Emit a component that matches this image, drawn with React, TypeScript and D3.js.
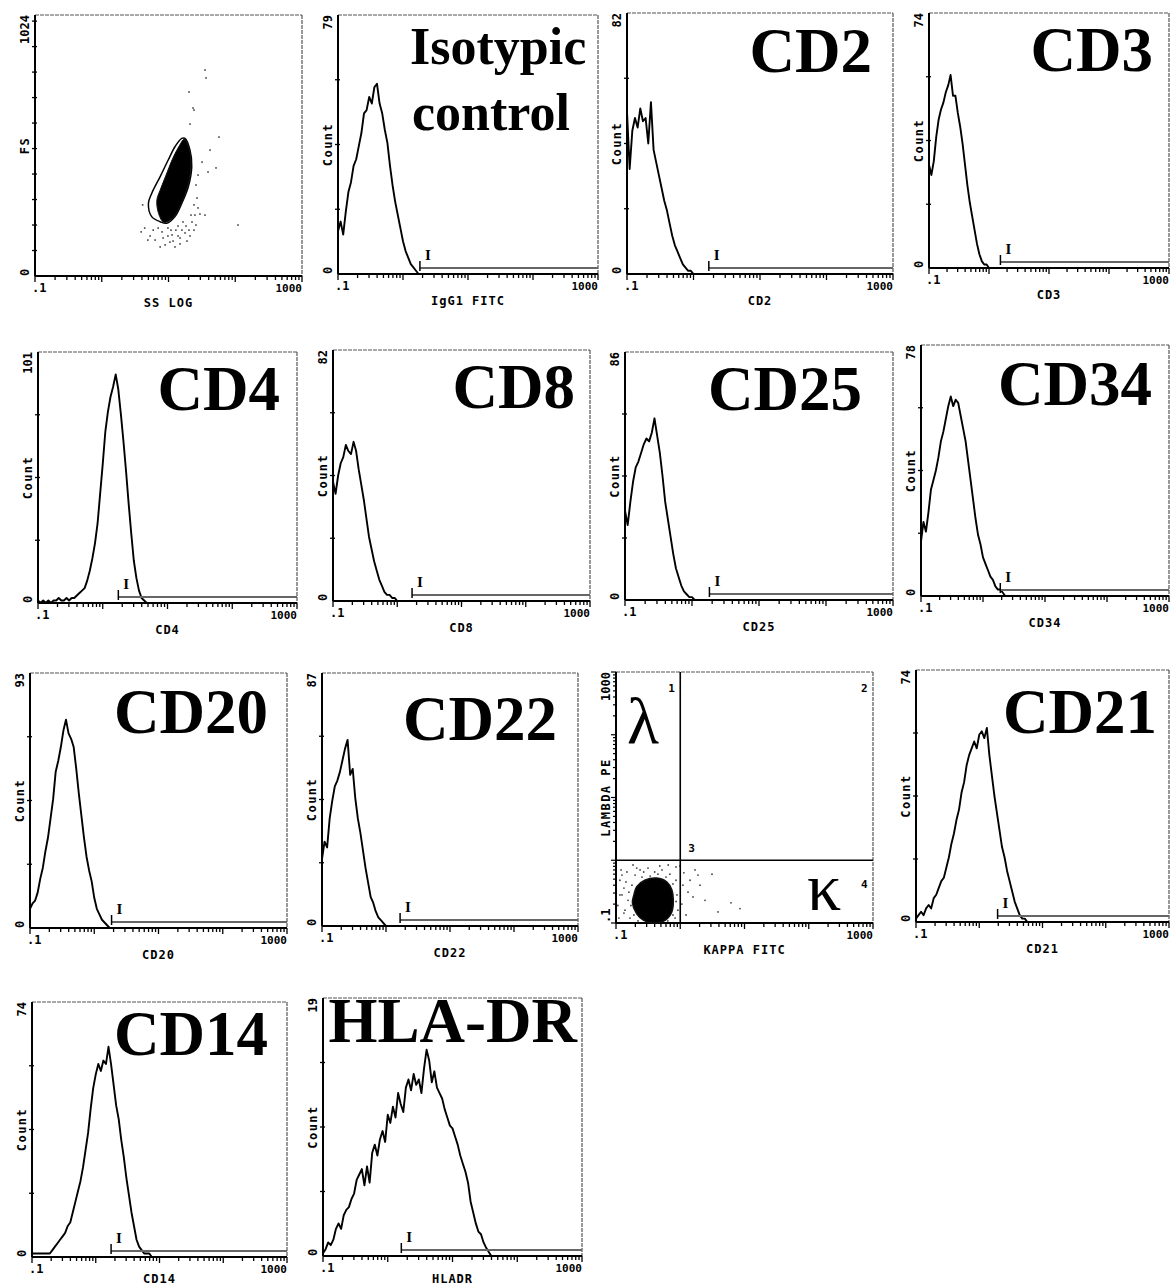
import React from 'react'
import * as d3 from 'd3'

const width = 1170
const height = 1288
const binsPerDecade = 25
const xDomain = [0.1, 1000]

// histogram counts, one value per 1/25 decade starting at 0.1
const isotypicCounts = [13, 16, 12, 19, 25, 28, 33, 35, 39, 43, 49, 50, 54, 52, 57, 58, 52, 49, 44, 40, 33, 27, 22, 18, 14, 10, 7, 5, 3, 2, 1, 0]
const cd2Counts = [51, 33, 45, 49, 46, 52, 48, 49, 41, 54, 39, 35, 31, 27, 23, 20, 16, 12, 9, 7, 5, 3, 2, 1, 1, 0]
const cd3Counts = [30, 27, 31, 38, 43, 46, 48, 51, 53, 56, 50, 50, 45, 41, 36, 30, 24, 19, 15, 11, 7, 4, 2, 1, 1, 0]
const cd4Counts = [1, 0, 1, 0, 1, 0, 1, 1, 2, 1, 1, 2, 1, 2, 2, 3, 4, 5, 6, 9, 13, 18, 24, 32, 44, 56, 69, 77, 83, 87, 92, 86, 76, 65, 53, 40, 28, 17, 10, 5, 2, 1, 0]
const cd8Counts = [39, 35, 41, 45, 47, 51, 49, 48, 52, 49, 43, 38, 33, 27, 21, 17, 13, 10, 7, 5, 3, 2, 2, 1, 1, 0]
const cd25Counts = [31, 26, 34, 41, 46, 48, 51, 54, 56, 55, 58, 63, 57, 51, 43, 34, 28, 22, 16, 11, 8, 5, 3, 2, 1, 1, 0]
const cd34Counts = [17, 23, 20, 26, 33, 36, 39, 43, 48, 51, 55, 59, 62, 59, 61, 60, 56, 52, 48, 42, 36, 30, 24, 19, 16, 12, 10, 8, 6, 5, 3, 2, 2, 1, 0]
const cd20Counts = [7, 9, 10, 13, 18, 22, 28, 33, 40, 47, 57, 61, 66, 72, 76, 71, 69, 66, 58, 49, 41, 33, 26, 21, 17, 11, 7, 5, 3, 2, 1, 0]
const cd22Counts = [23, 29, 27, 37, 43, 48, 50, 53, 57, 61, 64, 52, 54, 44, 37, 32, 26, 20, 15, 10, 8, 5, 3, 2, 1, 0]
const cd21Counts = [1, 2, 3, 2, 4, 5, 4, 7, 8, 10, 12, 13, 16, 19, 23, 26, 30, 33, 38, 41, 46, 49, 51, 53, 51, 55, 56, 54, 57, 49, 43, 37, 32, 27, 22, 19, 15, 12, 9, 6, 4, 2, 1, 1, 0]
const cd14Counts = [1, 1, 1, 1, 1, 1, 1, 1, 2, 3, 4, 5, 6, 7, 9, 10, 13, 16, 19, 22, 26, 31, 36, 43, 49, 53, 56, 54, 57, 56, 61, 56, 50, 44, 40, 34, 29, 23, 18, 13, 9, 5, 3, 2, 1, 1, 1, 0]
const hladrCounts = [0.2, 0.5, 1.0, 0.8, 1.2, 2.0, 2.4, 2.0, 3.0, 3.4, 3.6, 4.2, 4.6, 5.6, 6.0, 6.4, 5.2, 6.6, 5.4, 7.6, 8.2, 7.4, 8.6, 9.2, 8.4, 10.4, 9.8, 11.0, 10.2, 12.0, 11.2, 10.6, 12.4, 13.0, 12.2, 13.4, 12.6, 13.0, 12.0, 13.8, 15.2, 14.4, 12.8, 13.6, 12.4, 12.0, 11.6, 10.8, 10.2, 9.6, 9.4, 8.8, 8.2, 7.4, 6.8, 6.2, 5.4, 4.0, 3.2, 2.4, 1.8, 1.6, 1.0, 0.6, 0.3, 0]

const histCounts = [isotypicCounts, cd2Counts, cd3Counts, cd4Counts, cd8Counts, cd25Counts, cd34Counts, cd20Counts, cd22Counts, cd21Counts, cd14Counts, hladrCounts]
const histTitle = [['Isotypic', 'control'], ['CD2'], ['CD3'], ['CD4'], ['CD8'], ['CD25'], ['CD34'], ['CD20'], ['CD22'], ['CD21'], ['CD14'], ['HLA-DR']]
const histAxisLabel = ['IgG1 FITC', 'CD2', 'CD3', 'CD4', 'CD8', 'CD25', 'CD34', 'CD20', 'CD22', 'CD21', 'CD14', 'HLADR']
const histYMax = [79, 82, 74, 101, 82, 86, 78, 93, 87, 74, 74, 19]
const histGate = [1.82, 1.70, 1.55, 1.74, 1.70, 1.82, 1.90, 1.86, 1.66, 1.95, 1.74, 1.62]

// scatter FS vs SS LOG: outer contour, dense core, stray events
const contourSS = [17.7, 21.0, 22.3, 19.8, 15.8, 12.5, 9.4, 7.5, 5.6, 5.0, 5.6, 7.5, 9.9, 12.5, 15.8]
const contourFS = [540, 494, 429, 350, 285, 233, 207, 213, 233, 285, 324, 390, 455, 507, 540]
const coreSS = [17.4, 20.6, 21.7, 19.3, 15.4, 12.1, 9.5, 8.3, 7.0, 6.7, 7.5, 9.2, 11.3, 13.9]
const coreFS = [537, 494, 428, 349, 282, 231, 212, 212, 251, 298, 337, 396, 455, 502]
const straySS = [35.2, 36.5, 20.3, 23.3, 24.1, 21.0, 57.1, 41.9, 51.5, 39.1, 31.8, 27.7, 25.8, 35.2, 110, 25.8, 5.3, 6.3, 8.0, 9.8, 11.3, 12.9, 14.9, 17.7, 21.0, 13.9, 16.5, 10.5, 8.9, 24.1, 18.9, 4.4, 3.9, 26.7, 24.1, 4.1, 7.5, 12.5, 29.6, 21.7,
  7.0, 8.3, 9.8, 11.7, 13.9, 15.9, 18.3, 20.3, 22.5, 24.9, 27.7, 5.9, 4.9, 14.9, 10.9]
const strayFS = [808, 777, 722, 659, 651, 596, 545, 494, 424, 408, 447, 396, 357, 239, 200, 200, 157, 141, 173, 188, 161, 180, 149, 169, 157, 196, 212, 133, 122, 180, 137, 188, 173, 306, 279, 279, 114, 114, 243, 239,
  188, 149, 157, 137, 157, 180, 196, 180, 212, 239, 267, 180, 141, 126, 180]

// kappa / lambda dot plot
const blobKappa = [0.21, 0.28, 0.43, 0.62, 0.74, 0.78, 0.74, 0.58, 0.38, 0.27, 0.21, 0.18, 0.19]
const blobLambda = [0.38, 0.48, 0.52, 0.45, 0.34, 0.23, 0.15, 0.11, 0.10, 0.11, 0.14, 0.21, 0.28]
const dotKappa = [0.115, 0.124, 0.138, 0.148, 0.165, 0.154, 0.177, 0.198, 0.237, 0.315, 0.40, 0.52, 0.69, 0.86, 0.89, 0.92, 0.83, 1.14, 1.42, 1.32, 1.70, 2.03, 2.43, 3.87, 6.17, 0.29, 0.48, 0.237, 0.133, 0.107, 0.111, 0.184, 0.254, 0.65, 0.99, 1.06, 1.23, 3.12, 8.5, 0.12,
  0.143, 0.159, 0.171, 0.19, 0.22, 0.34, 0.45, 0.60, 0.77, 0.86, 0.77, 0.64, 0.42, 0.27, 0.124, 0.115, 0.133, 1.10, 1.58, 1.89, 0.86, 0.21, 0.48]
const dotLambda = [0.48, 0.28, 0.16, 0.65, 0.12, 0.23, 0.40, 0.58, 0.70, 0.75, 0.65, 0.70, 0.60, 0.48, 0.28, 0.16, 0.12, 0.63, 0.48, 0.31, 0.70, 0.40, 0.23, 0.15, 0.21, 0.11, 0.11, 0.134, 0.36, 0.19, 0.12, 0.84, 0.54, 0.84, 0.81, 0.20, 0.134, 0.60, 0.17, 0.70,
  0.45, 0.31, 0.19, 0.134, 0.108, 0.56, 0.60, 0.54, 0.42, 0.22, 0.134, 0.108, 0.12, 0.65, 0.58, 0.28, 0.144, 0.40, 0.26, 0.58, 0.78, 0.75, 0.81]
const quadKappa = 1
const quadLambda = 1

const mono = "'DejaVu Sans Mono', monospace"
const serif = "'Liberation Serif', 'Times New Roman', serif"

// panel boxes [left, top, right, bottom] and title placement
const scatterBox = [35, 15, 302, 276]
const quadBox = [616, 672, 873, 923]
const histLayout = [
  { box: [338, 15, 598, 274], tx: 410, ty: 64, size: 52, anchor: 'start' },
  { box: [627, 13, 893, 274], tx: 872, ty: 72, size: 63, anchor: 'end' },
  { box: [929, 13, 1169, 268], tx: 1153, ty: 71, size: 63, anchor: 'end' },
  { box: [38, 352, 297, 603], tx: 280, ty: 410, size: 63, anchor: 'end' },
  { box: [333, 350, 590, 601], tx: 575, ty: 408, size: 63, anchor: 'end' },
  { box: [625, 352, 893, 600], tx: 862, ty: 410, size: 63, anchor: 'end' },
  { box: [921, 345, 1169, 596], tx: 1152, ty: 405, size: 63, anchor: 'end' },
  { box: [30, 673, 287, 928], tx: 268, ty: 733, size: 63, anchor: 'end' },
  { box: [322, 673, 578, 926], tx: 557, ty: 740, size: 63, anchor: 'end' },
  { box: [916, 670, 1169, 922], tx: 1157, ty: 733, size: 63, anchor: 'end' },
  { box: [32, 1002, 287, 1257], tx: 268, ty: 1055, size: 63, anchor: 'end' },
  { box: [323, 998, 582, 1256], tx: 577, ty: 1042, size: 63, anchor: 'end' },
]

const isMajor = (t: number) => Math.abs(Math.log10(t) - Math.round(Math.log10(t))) < 1e-6

const Frame = ({ box, xScale, yTickPos, top, mid, bottom, xLabel }: any) => {
  const [x0, y0, x1, y1] = box
  const lab = { fontFamily: mono, fontWeight: 'bold', fill: '#000' }
  const labelY = Math.min(y1 + 31, height - 5)
  return (
    <g>
      <line x1={x0} y1={y0} x2={x1} y2={y0} stroke="#555" strokeWidth={1.2} strokeDasharray="4 1" />
      <line x1={x1} y1={y0} x2={x1} y2={y1} stroke="#555" strokeWidth={1.2} strokeDasharray="4 1" />
      <line x1={x0} y1={y0} x2={x0} y2={y1} stroke="#000" strokeWidth={2} />
      <line x1={x0} y1={y1} x2={x1} y2={y1} stroke="#000" strokeWidth={2} />
      {xScale.ticks().map((t: number) => (
        <line key={t} x1={xScale(t)} x2={xScale(t)} y1={y1} y2={y1 + (isMajor(t) ? 6 : 4)} stroke="#000" strokeWidth={1.3} />
      ))}
      {yTickPos.map((p: number, i: number) => (
        <line key={i} x1={x0 - 3} x2={x0 + 2} y1={p} y2={p} stroke="#000" strokeWidth={1.3} />
      ))}
      <text x={x0 - 3} y={y1 + 16} fontSize={12} {...lab}>.1</text>
      <text x={x1} y={y1 + 16} fontSize={11} textAnchor="end" {...lab}>1000</text>
      <text x={(x0 + x1) / 2} y={labelY} fontSize={12} letterSpacing={1} textAnchor="middle" {...lab}>{xLabel}</text>
      <text transform={`translate(${x0 - 6},${y0}) rotate(-90)`} fontSize={12} textAnchor="end" {...lab}>{top}</text>
      <text transform={`translate(${x0 - 6},${(y0 + y1) / 2}) rotate(-90)`} fontSize={12} letterSpacing={1.5} textAnchor="middle" {...lab}>{mid}</text>
      <text transform={`translate(${x0 - 6},${y1}) rotate(-90)`} fontSize={12} textAnchor="start" {...lab}>{bottom}</text>
    </g>
  )
}

const HistogramPanel = ({ index }: { index: number }) => {
  const layout = histLayout[index]
  const [x0, y0, x1, y1] = layout.box
  const yMax = histYMax[index]
  const x = d3.scaleLog().domain(xDomain).range([x0, x1])
  const y = d3.scaleLinear().domain([0, yMax]).range([y1, y0])
  const points: [number, number][] = histCounts[index].map((c, i) => [Math.pow(10, -1 + i / binsPerDecade), c])
  points.push([1000, 0])
  const path = d3.line<[number, number]>().x(d => x(d[0])).y(d => y(d[1]))(points)
  const gx = x(histGate[index])
  const yTickPos = [0.25, 0.5, 0.75].map(f => y(yMax * f))
  return (
    <g>
      <Frame box={layout.box} xScale={x} yTickPos={yTickPos} top={String(yMax)} mid="Count" bottom="0" xLabel={histAxisLabel[index]} />
      <path d={path || ''} fill="none" stroke="#000" strokeWidth={1.9} strokeLinejoin="round" />
      <line x1={gx} x2={x1} y1={y1 - 6} y2={y1 - 6} stroke="#666" strokeWidth={2.2} />
      <line x1={gx} x2={gx} y1={y1 - 3} y2={y1 - 13} stroke="#000" strokeWidth={1.5} />
      <text x={gx + 5} y={y1 - 14} fontFamily={serif} fontWeight="bold" fontSize={15}>I</text>
      {histTitle[index].map((t, j) => (
        <text key={j} x={layout.tx + j * 2} y={layout.ty + j * 66} textAnchor={layout.anchor as any}
          fontFamily={serif} fontWeight="bold" fontSize={layout.size}>{t}</text>
      ))}
    </g>
  )
}

const ScatterPanel = () => {
  const [x0, y0, x1, y1] = scatterBox
  const x = d3.scaleLog().domain(xDomain).range([x0, x1])
  const y = d3.scaleLinear().domain([0, 1024]).range([y1, y0])
  const outer = d3.line<number>().curve(d3.curveCatmullRomClosed).x(i => x(contourSS[i])).y(i => y(contourFS[i]))(contourSS.map((_, i) => i))
  const core = d3.line<number>().curve(d3.curveCatmullRomClosed).x(i => x(coreSS[i])).y(i => y(coreFS[i]))(coreSS.map((_, i) => i))
  const yTickPos = d3.range(100, 1024, 100).map(v => y(v))
  return (
    <g>
      <Frame box={scatterBox} xScale={x} yTickPos={yTickPos} top="1024" mid="FS" bottom="0" xLabel="SS LOG" />
      {strayFS.map((v, i) => (
        <rect key={i} x={x(straySS[i]) - 0.8} y={y(v) - 0.8} width={1.6} height={1.6} fill="#444" />
      ))}
      <path d={outer || ''} fill="#fff" stroke="#000" strokeWidth={1.5} />
      <path d={core || ''} fill="#000" stroke="#111" strokeWidth={1} />
    </g>
  )
}

const QuadrantPanel = () => {
  const [x0, y0, x1, y1] = quadBox
  const x = d3.scaleLog().domain(xDomain).range([x0, x1])
  const y = d3.scaleLog().domain(xDomain).range([y1, y0])
  const blob = d3.line<number>().curve(d3.curveCatmullRomClosed).x(i => x(blobKappa[i])).y(i => y(blobLambda[i]))(blobKappa.map((_, i) => i))
  const qx = x(quadKappa)
  const qy = y(quadLambda)
  const lab = { fontFamily: mono, fontWeight: 'bold', fill: '#000' }
  return (
    <g>
      <Frame box={quadBox} xScale={x} yTickPos={[]} top="1000" mid="LAMBDA PE" bottom=".1" xLabel="KAPPA FITC" />
      {y.ticks().map(t => (
        <line key={t} x1={x0 - (isMajor(t) ? 5 : 3)} x2={x0} y1={y(t)} y2={y(t)} stroke="#000" strokeWidth={1.2} />
      ))}
      {dotLambda.map((v, i) => (
        <circle key={i} cx={x(dotKappa[i])} cy={y(v)} r={0.9} fill="#444" />
      ))}
      <path d={blob || ''} fill="#000" stroke="#111" strokeWidth={1.5} />
      <line x1={qx} x2={qx} y1={y0} y2={y1} stroke="#000" strokeWidth={1.6} />
      <line x1={x0} x2={x1} y1={qy} y2={qy} stroke="#000" strokeWidth={1.6} />
      <text x={qx - 12} y={y0 + 20} fontSize={11} {...lab}>1</text>
      <text x={x1 - 12} y={y0 + 20} fontSize={11} {...lab}>2</text>
      <text x={qx + 8} y={qy - 8} fontSize={11} {...lab}>3</text>
      <text x={x1 - 12} y={qy + 28} fontSize={11} {...lab}>4</text>
      <text x={x0 + 11} y={y0 + 71} fontFamily={serif} fontSize={66}>λ</text>
      <text x={x1 - 66} y={y1 - 13} fontFamily={serif} fontSize={68}>κ</text>
    </g>
  )
}

export default function App() {
  return (
    <svg width={width} height={height} style={{ position: 'absolute', left: 0, top: 0, background: '#fff' }}>
      <rect width={width} height={height} fill="#fff" />
      <ScatterPanel />
      {histLayout.map((_, i) => <HistogramPanel key={i} index={i} />)}
      <QuadrantPanel />
    </svg>
  )
}
